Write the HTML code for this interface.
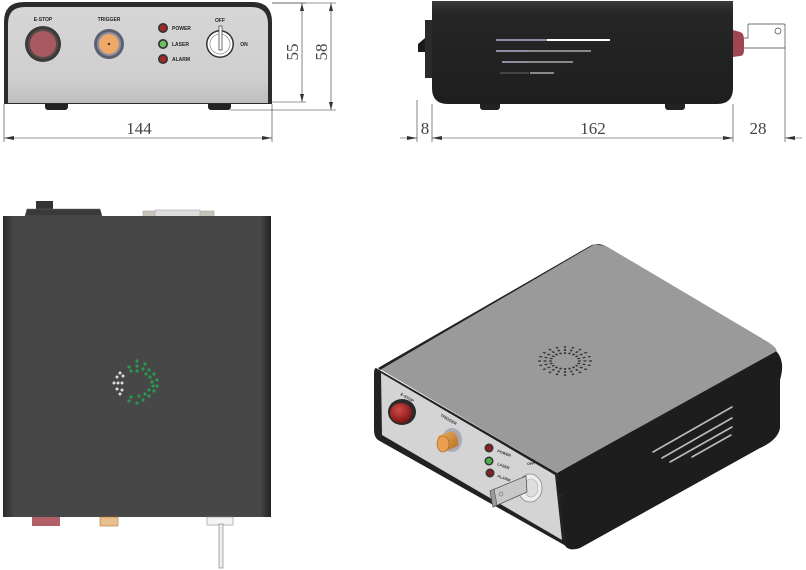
<!DOCTYPE html>
<html><head><meta charset="utf-8"><style>
html,body{margin:0;padding:0;background:#fff;width:806px;height:570px;overflow:hidden}
svg{display:block}
</style></head><body>
<svg width="806" height="570" viewBox="0 0 806 570" xmlns="http://www.w3.org/2000/svg" font-family="Liberation Sans, sans-serif">
<defs>
<linearGradient id="fp" x1="0" y1="0" x2="0" y2="1"><stop offset="0" stop-color="#d6d6d6"/><stop offset="0.75" stop-color="#cfcfcf"/><stop offset="1" stop-color="#bdbdbd"/></linearGradient>
<linearGradient id="tv" x1="0" y1="0" x2="1" y2="0"><stop offset="0" stop-color="#2a2a2a"/><stop offset="0.04" stop-color="#474747"/><stop offset="0.96" stop-color="#474747"/><stop offset="1" stop-color="#222"/></linearGradient>
<linearGradient id="sv" x1="0" y1="0" x2="0" y2="1"><stop offset="0" stop-color="#3a3a3a"/><stop offset="0.12" stop-color="#262626"/><stop offset="1" stop-color="#1e1e1e"/></linearGradient>
<radialGradient id="btn" cx="0.4" cy="0.35" r="0.7"><stop offset="0" stop-color="#d04a4a"/><stop offset="1" stop-color="#7a1010"/></radialGradient>
<linearGradient id="gold" x1="0" y1="0" x2="1" y2="1"><stop offset="0" stop-color="#f0b060"/><stop offset="1" stop-color="#b07020"/></linearGradient>
</defs>

<!-- FRONT VIEW -->
<rect x="45" y="100" width="23" height="10" rx="3" fill="#222"/>
<rect x="208" y="100" width="23" height="10" rx="3" fill="#222"/>
<path d="M4,104 L4,22 Q4,2 24,2 L252,2 Q272,2 272,22 L272,104 Z" fill="#2b2b2b"/>
<path d="M8,103 L8,24 Q8,7 25,7 L251,7 Q268,7 268,24 L268,103 Z" fill="url(#fp)"/>
<text x="43" y="21" font-size="5" font-weight="bold" text-anchor="middle" fill="#222">E-STOP</text>
<circle cx="43" cy="44" r="18" fill="#3a3a3a"/><circle cx="43" cy="44" r="15" fill="#5a4a4a"/><circle cx="43" cy="44" r="13" fill="#a85a60"/>
<text x="109" y="21" font-size="5" font-weight="bold" text-anchor="middle" fill="#222">TRIGGER</text>
<circle cx="109" cy="44" r="15" fill="#5a6070"/><circle cx="109" cy="44" r="12" fill="#8890a0"/><circle cx="109" cy="44" r="10" fill="#f0a868"/><circle cx="109" cy="44" r="1.2" fill="#333"/>
<circle cx="163" cy="28" r="5" fill="#333"/><circle cx="163" cy="28" r="3.3" fill="#a02828"/>
<circle cx="163" cy="44" r="5" fill="#333"/><circle cx="163" cy="44" r="3.3" fill="#6ac060"/>
<circle cx="163" cy="59" r="5" fill="#333"/><circle cx="163" cy="59" r="3.3" fill="#a02828"/>
<text x="172" y="30" font-size="5" font-weight="bold" fill="#222">POWER</text>
<text x="172" y="46" font-size="5" font-weight="bold" fill="#222">LASER</text>
<text x="172" y="61" font-size="5" font-weight="bold" fill="#222">ALARM</text>
<text x="220" y="22" font-size="5" font-weight="bold" text-anchor="middle" fill="#222">OFF</text>
<text x="244" y="46" font-size="5" font-weight="bold" text-anchor="middle" fill="#222">ON</text>
<circle cx="220" cy="44" r="14" fill="#333"/><circle cx="220" cy="44" r="12.5" fill="#fff"/><circle cx="220" cy="44" r="10" fill="none" stroke="#999" stroke-width="0.8"/>
<rect x="219" y="26" width="3" height="24" fill="#fff" stroke="#333" stroke-width="0.7"/>
<g stroke="#333" stroke-width="0.6" fill="none">
<line x1="272" y1="3" x2="306" y2="3"/><line x1="272" y1="3" x2="336" y2="3"/>
<line x1="272" y1="102" x2="306" y2="102"/><line x1="230" y1="110" x2="336" y2="110"/>
<line x1="302" y1="3" x2="302" y2="102"/><line x1="331" y1="3" x2="331" y2="110"/>
<line x1="4" y1="104" x2="4" y2="142"/><line x1="272" y1="104" x2="272" y2="142"/>
<line x1="4" y1="138" x2="272" y2="138"/>
<line x1="417" y1="100" x2="417" y2="142"/><line x1="432" y1="104" x2="432" y2="142"/>
<line x1="733" y1="104" x2="733" y2="142"/><line x1="785" y1="48" x2="785" y2="142"/>
<line x1="400" y1="138" x2="417" y2="138"/><line x1="432" y1="138" x2="733" y2="138"/><line x1="785" y1="138" x2="802" y2="138"/>
</g>
<g fill="#333">
<path d="M302,3 l-2,8 l4,0z"/><path d="M302,102 l-2,-8 l4,0z"/>
<path d="M331,3 l-2,8 l4,0z"/><path d="M331,110 l-2,-8 l4,0z"/>
<path d="M4,138 l10,-2 l0,4z"/><path d="M272,138 l-10,-2 l0,4z"/>
<path d="M417,138 l-10,-2 l0,4z"/><path d="M432,138 l10,-2 l0,4z"/>
<path d="M733,138 l-10,-2 l0,4z"/><path d="M785,138 l10,-2 l0,4z"/>
</g>
<g font-family="Liberation Serif, serif" font-size="17" fill="#444">
<text x="139" y="134" text-anchor="middle">144</text>
<text transform="translate(298,52) rotate(-90)" text-anchor="middle">55</text>
<text transform="translate(327,52) rotate(-90)" text-anchor="middle">58</text>
<text x="425" y="134" text-anchor="middle">8</text>
<text x="593" y="134" text-anchor="middle">162</text>
<text x="758" y="134" text-anchor="middle">28</text>
</g>

<!-- SIDE VIEW -->
<rect x="480" y="98" width="20" height="12" rx="3" fill="#222"/>
<rect x="665" y="98" width="20" height="12" rx="3" fill="#222"/>
<path d="M425,20 L432,20 L432,78 L425,78 Z" fill="#2a2a2a"/>
<path d="M418,44 L425,38 L425,52 L418,52 Z" fill="#1a1a1a"/>
<path d="M432,1 L733,1 L733,88 Q733,104 717,104 L448,104 Q432,104 432,88 Z" fill="url(#sv)"/>
<rect x="496" y="39" width="51" height="2" fill="#8a8ea0"/><rect x="547" y="39" width="63" height="2" fill="#fff"/>
<rect x="496" y="50" width="33" height="2" fill="#8a8ea0"/><rect x="529" y="50" width="62" height="2" fill="#888"/>
<rect x="502" y="61" width="27" height="2" fill="#8a8ea0"/><rect x="529" y="61" width="44" height="2" fill="#888"/>
<rect x="500" y="72" width="29" height="2" fill="#444"/><rect x="530" y="72" width="24" height="2" fill="#888"/>
<path d="M733,30 L740,32 Q744,33 744,40 L744,50 Q744,56 740,56 L733,57 Z" fill="#a04650"/>
<path d="M744,38 L748,38 L748,25 Q748,24 749,24 L784,24 Q785,24 785,25 L785,48 L744,48" fill="#fff" stroke="#444" stroke-width="0.7"/>
<circle cx="778" cy="31" r="3" fill="none" stroke="#444" stroke-width="0.7"/>

<!-- TOP VIEW -->
<rect x="36" y="201" width="17" height="9" fill="#333"/>
<path d="M25,216 L27,209 L100,209 L102,216 Z" fill="#3a3a3a" stroke="#666" stroke-width="0.6"/>
<rect x="143" y="211" width="71" height="6" fill="#c8c4bc" stroke="#999" stroke-width="0.5"/>
<rect x="155" y="210" width="45" height="7" fill="#ddd" stroke="#999" stroke-width="0.5"/>
<rect x="3" y="216" width="268" height="301" fill="url(#tv)"/>
<rect x="32" y="517" width="28" height="9" fill="#b06068"/>
<rect x="100" y="517" width="18" height="9" fill="#e8c090" stroke="#b07030" stroke-width="0.6"/>
<rect x="207" y="517" width="26" height="8" fill="#f4f4f4" stroke="#888" stroke-width="0.6"/>
<rect x="219" y="524" width="4" height="44" fill="#eee" stroke="#777" stroke-width="0.6"/>
<g transform="translate(137,383)">
<g fill="#2a9a50">
<circle cx="0" cy="-22" r="1.6"/><circle cx="0" cy="-17" r="1.6"/><circle cx="0" cy="-12" r="1.6"/>
<circle cx="8" cy="-19" r="1.6"/><circle cx="6" cy="-14" r="1.6"/><circle cx="12" cy="-13" r="1.6"/><circle cx="9" cy="-9" r="1.6"/>
<circle cx="17" cy="-9" r="1.6"/><circle cx="13" cy="-6" r="1.6"/><circle cx="20" cy="-3" r="1.6"/><circle cx="15" cy="-1" r="1.6"/>
<circle cx="20" cy="3" r="1.6"/><circle cx="16" cy="3" r="1.6"/><circle cx="17" cy="8" r="1.6"/><circle cx="12" cy="7" r="1.6"/>
<circle cx="12" cy="13" r="1.6"/><circle cx="8" cy="11" r="1.6"/><circle cx="6" cy="17" r="1.6"/><circle cx="2" cy="13" r="1.6"/>
<circle cx="0" cy="20" r="1.6"/><circle cx="-8" cy="18" r="1.6"/><circle cx="-6" cy="14" r="1.6"/><circle cx="-8" cy="-16" r="1.6"/><circle cx="-6" cy="-12" r="1.6"/>
</g>
<g fill="#ddd">
<circle cx="-17" cy="-10" r="1.5"/><circle cx="-20" cy="-6" r="1.5"/><circle cx="-14" cy="-7" r="1.5"/>
<circle cx="-23" cy="0" r="1.5"/><circle cx="-19" cy="0" r="1.5"/><circle cx="-15" cy="0" r="1.5"/>
<circle cx="-20" cy="6" r="1.5"/><circle cx="-15" cy="7" r="1.5"/><circle cx="-17" cy="11" r="1.5"/>
</g>
</g>

<!-- ISOMETRIC VIEW -->
<path d="M557,473 L775,350 Q786,360 780,380 L780,428 Q778,440 760,448 L580,548 Q565,553 563,540 Z" fill="#1d1d1d"/>
<path d="M378,368 L590,246 Q598,242 606,246 L768,342 Q780,350 775,352 L557,473 Z" fill="#9a9a9a"/>
<path d="M378,368 L590,246 Q597,242 604,246 L595,244 L380,370 Z" fill="#222"/>
<path d="M376,368 L557,473 L566,546 L378,440 Q374,437 374,430 L374,374 Q374,368 376,368 Z" fill="#222"/>
<path d="M381,373 L555,475 L562,540 L382,435 Z" fill="#d4d4d4"/>
<g stroke="#bbb" stroke-width="1.6" stroke-linecap="round">
<line x1="653" y1="452" x2="732" y2="407"/><line x1="662" y1="458" x2="732" y2="418"/>
<line x1="670" y1="462" x2="732" y2="427"/>
<line x1="692" y1="457" x2="731" y2="435"/>
</g>
<g transform="translate(565,361) scale(1,0.55)" stroke="#333" stroke-width="2.2" stroke-dasharray="3 2.5">
<line x1="13" y1="0" x2="27" y2="0"/>
<line x1="13" y1="0" x2="27" y2="0" transform="rotate(18)"/><line x1="13" y1="0" x2="27" y2="0" transform="rotate(36)"/>
<line x1="13" y1="0" x2="27" y2="0" transform="rotate(54)"/><line x1="13" y1="0" x2="27" y2="0" transform="rotate(72)"/>
<line x1="13" y1="0" x2="27" y2="0" transform="rotate(90)"/><line x1="13" y1="0" x2="27" y2="0" transform="rotate(108)"/>
<line x1="13" y1="0" x2="27" y2="0" transform="rotate(126)"/><line x1="13" y1="0" x2="27" y2="0" transform="rotate(144)"/>
<line x1="13" y1="0" x2="27" y2="0" transform="rotate(162)"/><line x1="13" y1="0" x2="27" y2="0" transform="rotate(180)"/>
<line x1="13" y1="0" x2="27" y2="0" transform="rotate(198)"/><line x1="13" y1="0" x2="27" y2="0" transform="rotate(216)"/>
<line x1="13" y1="0" x2="27" y2="0" transform="rotate(234)"/><line x1="13" y1="0" x2="27" y2="0" transform="rotate(252)"/>
<line x1="13" y1="0" x2="27" y2="0" transform="rotate(270)"/><line x1="13" y1="0" x2="27" y2="0" transform="rotate(288)"/>
<line x1="13" y1="0" x2="27" y2="0" transform="rotate(306)"/><line x1="13" y1="0" x2="27" y2="0" transform="rotate(324)"/>
<line x1="13" y1="0" x2="27" y2="0" transform="rotate(342)"/>
</g>
<text x="400" y="395" font-size="4" font-weight="bold" fill="#333" transform="rotate(30,400,395)">E-STOP</text>
<ellipse cx="402" cy="412" rx="14" ry="13" fill="#2a2a2a"/>
<ellipse cx="401" cy="413" rx="11" ry="10" fill="url(#btn)"/>
<text x="440" y="416" font-size="4" font-weight="bold" fill="#333" transform="rotate(30,440,416)">TRIGGER</text>
<ellipse cx="452" cy="440" rx="10" ry="12" fill="#aab" />
<path d="M438,436 L452,431 Q460,436 458,446 L446,451 Q438,446 438,436 Z" fill="url(#gold)"/>
<ellipse cx="443" cy="444" rx="6" ry="8" fill="#e8a050" stroke="#a06020" stroke-width="0.6"/>
<circle cx="489" cy="448" r="4.5" fill="#333"/><circle cx="489" cy="448" r="3" fill="#8a2020"/>
<circle cx="489" cy="461" r="4.5" fill="#333"/><circle cx="489" cy="461" r="3" fill="#50b050"/>
<circle cx="490" cy="473" r="4.5" fill="#333"/><circle cx="490" cy="473" r="3" fill="#8a2020"/>
<g font-size="3.8" font-weight="bold" fill="#333">
<text x="497" y="452" transform="rotate(20,497,452)">POWER</text>
<text x="497" y="465" transform="rotate(20,497,465)">LASER</text>
<text x="497" y="477" transform="rotate(20,497,477)">ALARM</text>
<text x="527" y="465">OFF</text><text x="557" y="497">ON</text>
</g>
<ellipse cx="530" cy="488" rx="12" ry="14" fill="#eee" stroke="#888" stroke-width="0.8"/>
<ellipse cx="531" cy="488" rx="7" ry="9" fill="#ddd" stroke="#aaa" stroke-width="0.6"/>
<path d="M490,491 L526,476 L527,492 L493,507 Z" fill="#c8c8c8" stroke="#555" stroke-width="0.8"/>
<path d="M490,491 L494,489 L497,505 L493,507 Z" fill="#999" stroke="#555" stroke-width="0.6"/>
<circle cx="501" cy="494" r="2" fill="none" stroke="#666" stroke-width="0.6"/>
</svg>
</body></html>
